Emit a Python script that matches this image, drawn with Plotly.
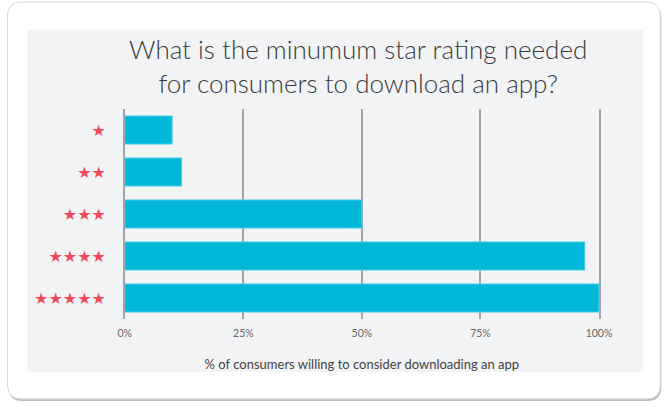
import plotly.graph_objects as go

# the photographed page squeezes x slightly; design coords are mapped back from the reference pixels
FW, FH = 683, 409
SX, OXS = 0.971, 6.5

# data
ratings = ["★", "★★", "★★★", "★★★★", "★★★★★"]
pct = [10, 12, 50, 97, 100]
tick_vals = [0, 25, 50, 75, 100]
tick_text = ["0%", "25%", "50%", "75%", "100%"]


def fx(x):
    # reference pixel -> paper x
    return (x - OXS) / SX / FW


def fy(y):
    # reference pixel -> paper y
    return 1 - y / FH


def rounded(x0, y0, x1, y1, r):
    # rounded rectangle path in paper coords
    def p(x, y):
        return "%f,%f" % (fx(x), fy(y))
    return ("M " + p(x0 + r, y0) + " L " + p(x1 - r, y0) +
            " Q " + p(x1, y0) + " " + p(x1, y0 + r) +
            " L " + p(x1, y1 - r) + " Q " + p(x1, y1) + " " + p(x1 - r, y1) +
            " L " + p(x0 + r, y1) + " Q " + p(x0, y1) + " " + p(x0, y1 - r) +
            " L " + p(x0, y0 + r) + " Q " + p(x0, y0) + " " + p(x0 + r, y0) + " Z")


fig = go.Figure()
fig.add_trace(go.Bar(
    x=pct, y=ratings, orientation="h",
    marker=dict(color="#00b6d9", line=dict(color="#4fd3ea", width=1)),
    hoverinfo="x+y",
))

shapes = [
    # card shadow + card
    dict(type="path", xref="paper", yref="paper", path=rounded(8, 4, 661, 401, 14),
         fillcolor="#bdbdc1", line=dict(width=0), layer="below"),
    dict(type="path", xref="paper", yref="paper", path=rounded(7, 2, 660, 399, 14),
         fillcolor="#ffffff", line=dict(color="#d6d6da", width=1), layer="below"),
    # grey panel
    dict(type="rect", xref="paper", yref="paper", fillcolor="#f2f3f5",
         line=dict(width=0), layer="below",
         x0=fx(27), x1=fx(643), y0=fy(372), y1=fy(29.5)),
]

fig.update_layout(
    width=FW, height=FH,
    margin=dict(l=0, r=0, t=0, b=0),
    paper_bgcolor="#ffffff",
    plot_bgcolor="rgba(0,0,0,0)",
    showlegend=False,
    bargap=0.33,
    shapes=shapes,
    annotations=[dict(
        text="What is the minumum star rating needed<br>for consumers to download an app?",
        xref="paper", yref="paper", x=fx(357.5), y=fy(65.5),
        xanchor="center", yanchor="middle", showarrow=False,
        font=dict(family="Lato Light, Lato", size=26, color="#3a3a3a", weight=300),
    )],
    font=dict(family="Lato, sans-serif", color="#444444"),
    xaxis=dict(
        domain=[fx(124.3), fx(598.7)],
        range=[0, 100], tickvals=tick_vals, ticktext=tick_text,
        showgrid=True, gridcolor="#a3a3a8", gridwidth=1.5,
        zeroline=False, showline=False,
        tickfont=dict(family="Lato", size=10.5, color="#666666"),
        ticklabelstandoff=6,
        title=dict(text="% of consumers willing to consider downloading an app",
                   font=dict(family="Lato", size=13, color="#444444"), standoff=22),
        fixedrange=True,
    ),
    yaxis=dict(
        domain=[fy(319), fy(109)],
        categoryorder="array", categoryarray=ratings, autorange="reversed",
        showgrid=False, zeroline=False,
        # left/right frame lines give the 0% and 100% verticals
        showline=True, mirror=True, linecolor="#a3a3a8", linewidth=1.5,
        tickfont=dict(family="DejaVu Sans", size=16, color="#ef4a5d"),
        ticklabelstandoff=14,
        fixedrange=True,
    ),
)

fig.write_html("out.html", config={"displayModeBar": False},
               post_script="document.body.style.margin='0';document.body.style.overflow='hidden';")
